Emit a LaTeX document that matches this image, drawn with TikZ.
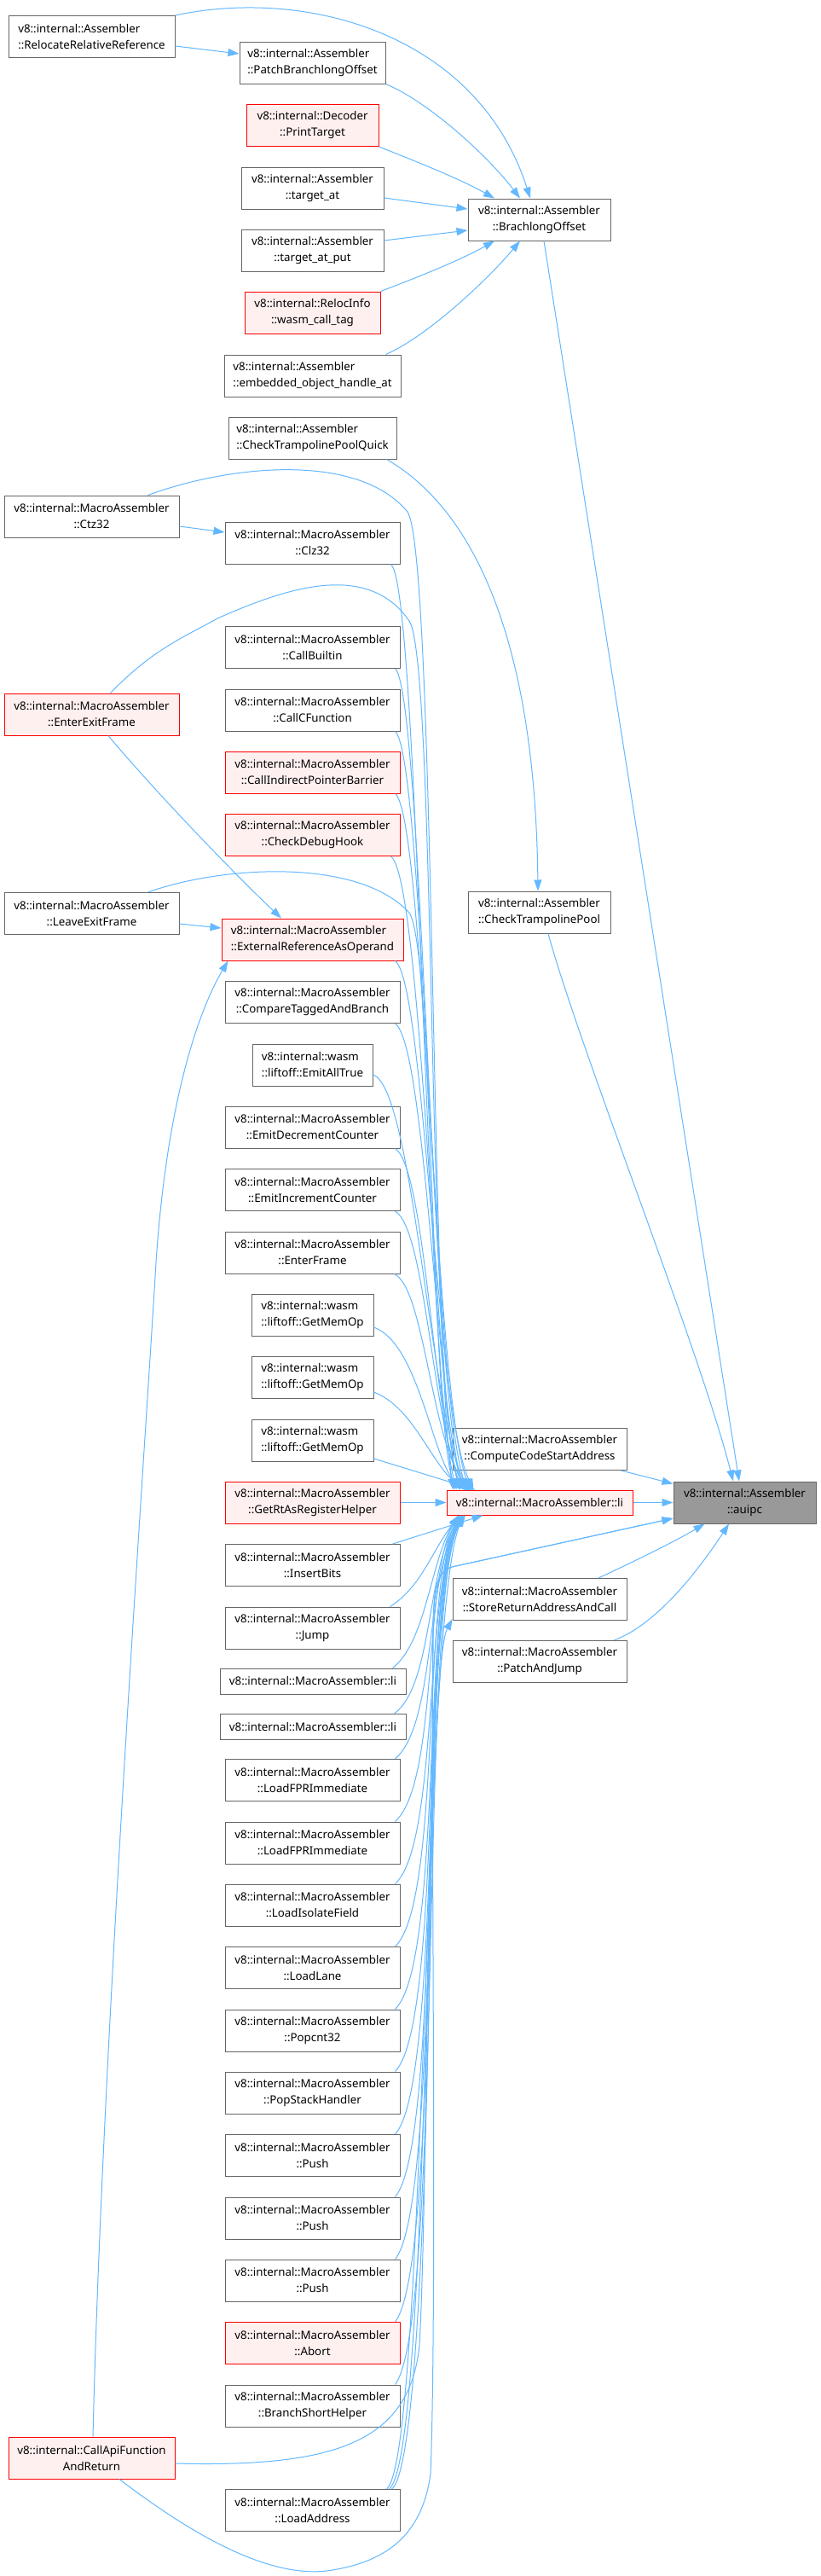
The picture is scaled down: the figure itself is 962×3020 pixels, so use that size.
\documentclass[tikz,border=0pt]{standalone}
\usepackage{fontspec}
\setmainfont{Noto Sans}
\usetikzlibrary{arrows.meta,calc}
\definecolor{edgec}{HTML}{63B8FF}
\definecolor{bordc}{HTML}{666666}
\definecolor{redfill}{HTML}{FFF0F0}
\definecolor{grayfill}{HTML}{999999}
\begin{document}
\begin{tikzpicture}[x=1pt,y=-1pt,
  nbox/.style={draw=bordc,fill=white,line width=1pt,inner sep=0pt,minimum height=49pt,
    align=center,font=\fontsize{13.3}{19}\selectfont,text=black},
  redbox/.style={nbox,draw=red,fill=redfill},
  graybox/.style={nbox,fill=grayfill,draw=bordc},
  conn/.style={draw=edgec,line width=1pt,-{Triangle[length=13pt,width=9pt]}},
  plain/.style={draw=edgec,line width=1pt}]
\fill[white] (0,0) rectangle (962,3020);
\useasboundingbox (0,0) rectangle (962,3020);

% ---- nodes
\node[nbox,minimum width=195,align=left] (reloc) at (107.5,43) {v8::internal::Assembler\\::RelocateRelativeReference};
\node[nbox,minimum width=171,align=left] (patch) at (366.5,73.5) {v8::internal::Assembler\\::PatchBranchlongOffset};
\node[redbox,minimum width=155] (printt) at (366.5,147) {v8::internal::Decoder\\::PrintTarget};
\node[nbox,minimum width=167] (tat) at (366.5,220.5) {v8::internal::Assembler\\::target\_at};
\node[nbox,minimum width=167] (tatput) at (366.5,293.5) {v8::internal::Assembler\\::target\_at\_put};
\node[redbox,minimum width=159] (wasmtag) at (366.5,366.5) {v8::internal::RelocInfo\\::wasm\_call\_tag};
\node[nbox,minimum width=207,align=left] (emb) at (366.5,440.5) {v8::internal::Assembler\\::embedded\_object\_handle\_at};
\node[nbox,minimum width=197,align=left] (ctpq) at (366.5,513.5) {v8::internal::Assembler\\::CheckTrampolinePoolQuick};
\node[nbox,minimum width=167] (brach) at (632.5,257.5) {v8::internal::Assembler\\::BrachlongOffset};
\node[nbox,minimum width=205] (ctz) at (107.5,605.5) {v8::internal::MacroAssembler\\::Ctz32};
\node[nbox,minimum width=205] (clz) at (366.5,636.5) {v8::internal::MacroAssembler\\::Clz32};
\node[nbox,minimum width=205] (cb) at (366.5,759) {v8::internal::MacroAssembler\\::CallBuiltin};
\node[nbox,minimum width=205] (ccf) at (366.5,832.5) {v8::internal::MacroAssembler\\::CallCFunction};
\node[redbox,minimum width=205] (cipb) at (366.5,905.5) {v8::internal::MacroAssembler\\::CallIndirectPointerBarrier};
\node[redbox,minimum width=205] (cdh) at (366.5,979) {v8::internal::MacroAssembler\\::CheckDebugHook};
\node[redbox,minimum width=205] (eef) at (107.5,837.5) {v8::internal::MacroAssembler\\::EnterExitFrame};
\node[nbox,minimum width=205] (lef) at (107.5,1071) {v8::internal::MacroAssembler\\::LeaveExitFrame};
\node[redbox,minimum width=213,align=left] (eroa) at (366.5,1101.5) {v8::internal::MacroAssembler\\::ExternalReferenceAsOperand};
\node[nbox,minimum width=205] (ctab) at (366.5,1175) {v8::internal::MacroAssembler\\::CompareTaggedAndBranch};
\node[nbox,minimum width=141,align=left] (eat) at (366.5,1248.5) {v8::internal::wasm\\::liftoff::EmitAllTrue};
\node[nbox,minimum width=205] (edc) at (366.5,1321.5) {v8::internal::MacroAssembler\\::EmitDecrementCounter};
\node[nbox,minimum width=205] (eic) at (366.5,1395) {v8::internal::MacroAssembler\\::EmitIncrementCounter};
\node[nbox,minimum width=205] (ef) at (366.5,1468.5) {v8::internal::MacroAssembler\\::EnterFrame};
\node[nbox,minimum width=143,align=left] (gmoa) at (366.5,1542) {v8::internal::wasm\\::liftoff::GetMemOp};
\node[nbox,minimum width=143,align=left] (gmob) at (366.5,1615) {v8::internal::wasm\\::liftoff::GetMemOp};
\node[nbox,minimum width=143,align=left] (gmoc) at (366.5,1688.5) {v8::internal::wasm\\::liftoff::GetMemOp};
\node[redbox,minimum width=205] (grarh) at (366.5,1761.5) {v8::internal::MacroAssembler\\::GetRtAsRegisterHelper};
\node[nbox,minimum width=205] (ib) at (366.5,1835) {v8::internal::MacroAssembler\\::InsertBits};
\node[nbox,minimum width=205] (jump) at (366.5,1908.5) {v8::internal::MacroAssembler\\::Jump};
\node[nbox,minimum width=218,minimum height=30] (lione) at (367,1971) {v8::internal::MacroAssembler::li};
\node[nbox,minimum width=218,minimum height=30] (litwo) at (367,2024.5) {v8::internal::MacroAssembler::li};
\node[nbox,minimum width=205] (lfpra) at (366.5,2087) {v8::internal::MacroAssembler\\::LoadFPRImmediate};
\node[nbox,minimum width=205] (lfprb) at (366.5,2160.5) {v8::internal::MacroAssembler\\::LoadFPRImmediate};
\node[nbox,minimum width=205] (lif) at (366.5,2233.5) {v8::internal::MacroAssembler\\::LoadIsolateField};
\node[nbox,minimum width=205] (lane) at (366.5,2307) {v8::internal::MacroAssembler\\::LoadLane};
\node[nbox,minimum width=205] (pop) at (366.5,2380.5) {v8::internal::MacroAssembler\\::Popcnt32};
\node[nbox,minimum width=205] (psh) at (366.5,2453.5) {v8::internal::MacroAssembler\\::PopStackHandler};
\node[nbox,minimum width=205] (pusha) at (366.5,2527) {v8::internal::MacroAssembler\\::Push};
\node[nbox,minimum width=205] (pushb) at (366.5,2600.5) {v8::internal::MacroAssembler\\::Push};
\node[nbox,minimum width=205] (pushc) at (366.5,2673.5) {v8::internal::MacroAssembler\\::Push};
\node[redbox,minimum width=205] (abort) at (366.5,2747) {v8::internal::MacroAssembler\\::Abort};
\node[nbox,minimum width=205] (bsh) at (366.5,2820.5) {v8::internal::MacroAssembler\\::BranchShortHelper};
\node[redbox,minimum width=195] (cafr) at (107.5,2881.5) {v8::internal::CallApiFunction\\AndReturn};
\node[nbox,minimum width=205] (la) at (366.5,2943) {v8::internal::MacroAssembler\\::LoadAddress};
\node[nbox,minimum width=167] (ctp) at (632.5,1069.5) {v8::internal::Assembler\\::CheckTrampolinePool};
\node[nbox,minimum width=204] (ccsa) at (633,1699) {v8::internal::MacroAssembler\\::ComputeCodeStartAddress};
\node[redbox,minimum width=218,minimum height=29] (mli) at (633,1761.5) {v8::internal::MacroAssembler::li};
\node[nbox,minimum width=204] (srac) at (633,1875) {v8::internal::MacroAssembler\\::StoreReturnAddressAndCall};
\node[nbox,minimum width=204] (paj) at (633,1948) {v8::internal::MacroAssembler\\::PatchAndJump};
\node[graybox,minimum width=167] (auipc) at (873.5,1761.5) {v8::internal::Assembler\\::auipc};

% ---- edges to BrachlongOffset
\draw[conn] ($(reloc.east)+(0,11)$) -- ($(patch.west)+(0,-10.5)$);
\draw[conn] (reloc.north east) .. controls (360,-15) and (560,40) .. ($(brach.north)+(-10.5,0)$);
\draw[conn] (patch.south east) .. controls (500,118) and (570,180) .. ($(brach.north)+(-22.5,0)$);
\draw[conn] (printt.south east) .. controls (490,190) and (540,210) .. ($(brach.north)+(-52.5,0)$);
\draw[conn] ($(tat.east)+(0,11.5)$) -- ($(brach.west)+(0,-12.5)$);
\draw[conn] ($(tatput.east)+(0,-11.5)$) -- ($(brach.west)+(0,12.5)$);
\draw[conn] (wasmtag.north east) .. controls (490,325) and (540,305) .. ($(brach.south)+(-52.5,0)$);
\draw[conn] ($(emb.north east)+(-18,0)$) .. controls (500,395) and (570,330) .. ($(brach.south)+(-22.5,0)$);

% ---- edges to auipc
\draw[conn] ($(brach.south)+(5.5,0)$) -- ($(auipc.north)+(-6.5,0)$);
\draw[conn] ($(ctpq.south east)+(-12,0)$) .. controls (560,600) and (628,760) .. ($(ctp.north)+(-1.5,0)$);
\draw[conn] ($(ctp.south)+(10.5,0)$) .. controls (680,1230) and (820,1580) .. ($(auipc.north)+(-13.5,0)$);
\draw[conn] ($(ccsa.south east)+(-7,0)$) -- ($(auipc.west)+(0,-22)$);
\draw[conn] (mli.east) -- (auipc.west);
\draw[conn] ($(srac.north)+(69,0)$) .. controls (745,1830) and (790,1808) .. ($(auipc.south west)+(37,0)$);
\draw[conn] ($(paj.north)+(87,0)$) .. controls (770,1905) and (820,1840) .. ($(auipc.south)+(-18.5,0)$);
\draw[conn] ($(cafr.south)+(32.5,0)$) .. controls (230,2975) and (320,3025) .. (390,3013)
  .. controls (450,3003) and (495,2975) .. (505,2900)
  .. controls (513,2700) and (505,2100) .. (508,1900)
  .. controls (510,1860) and (514,1842) .. (530,1837)
  -- ($(auipc.west)+(0,18.5)$);

% ---- other edges
\draw[conn] ($(ctz.east)+(0,11.5)$) -- ($(clz.west)+(0,-12.5)$);
\draw[conn] ($(eef.south)+(19.5,0)$) .. controls (175,920) and (270,1020) .. ($(eroa.north)+(-36.5,0)$);
\draw[conn] ($(lef.east)+(0,12)$) -- ($(eroa.west)+(0,-13.5)$);
\draw[conn] ($(cafr.north)+(1.5,0)$) .. controls (120,2400) and (170,1700) .. (183,1480)
  .. controls (195,1300) and (230,1190) .. ($(eroa.south west)+(8,0)$);
\draw[conn] ($(cafr.east)+(0,6.5)$) .. controls (400,2893) and (480,2860) .. (492,2750)
  .. controls (505,2500) and (495,1900) .. ($(mli.south west)+(18,0)$);
\draw[conn] ($(la.north east)+(-16,0)$) .. controls (500,2880) and (495,1900) .. ($(mli.south west)+(20,0)$);
\draw[conn] ($(la.north east)+(-13,0)$) .. controls (505,2880) and (498,1960) .. ($(srac.south west)+(0,-2)$);
\draw[conn] ($(la.north east)+(-10,0)$) .. controls (510,2880) and (506,1900) .. (509,1880)
  .. controls (511,1855) and (515,1842) .. (530,1837) -- ($(auipc.west)+(0,18.5)$);

% ---- edges into li from above
\draw[conn] ($(ctz.north)+(66,0)$) .. controls (270,545) and (420,530) .. (478,600)
  .. controls (510,650) and (505,1550) .. ($(mli.north west)+(8,0)$);
\draw[conn] ($(clz.south east)+(-11,0)$) .. controls (492,690) and (498,1600) .. ($(mli.north west)+(12,0)$);
\draw[conn] ($(eef.north)+(22,0)$) .. controls (180,760) and (220,745) .. (255,725)
  .. controls (330,692) and (430,655) .. (480,728)
  .. controls (512,775) and (500,1600) .. ($(mli.north west)+(16,0)$);
\draw[conn] ($(cb.south east)+(-6,0)$) .. controls (495,810) and (505,1600) .. ($(mli.north west)+(20,0)$);
\draw[conn] ($(ccf.south east)+(-6,0)$) .. controls (497,885) and (507,1620) .. ($(mli.north west)+(24,0)$);
\draw[conn] ($(cipb.south east)+(-6,0)$) .. controls (498,955) and (509,1630) .. ($(mli.north west)+(28,0)$);
\draw[conn] ($(cdh.south east)+(-11,0)$) .. controls (495,1030) and (510,1640) .. ($(mli.north west)+(16,0)$);
\draw[conn] ($(lef.north)+(66,0)$) .. controls (260,1015) and (420,1005) .. (480,1070)
  .. controls (508,1110) and (505,1640) .. ($(mli.north west)+(10,0)$);
\draw[conn] ($(eroa.south east)+(-10,0)$) .. controls (498,1150) and (510,1650) .. ($(mli.north west)+(32,0)$);
\draw[conn] ($(ctab.south east)+(-6,0)$) .. controls (500,1225) and (512,1660) .. ($(mli.north west)+(22,0)$);
\draw[conn] ($(eat.east)+(0,11.5)$) .. controls (485,1275) and (505,1660) .. ($(mli.north west)+(26,0)$);
\draw[conn] ($(edc.south east)+(-6,0)$) .. controls (500,1370) and (508,1670) .. ($(mli.north west)+(20,0)$);
\draw[conn] ($(eic.south east)+(-6,0)$) .. controls (500,1440) and (508,1680) .. ($(mli.north west)+(24,0)$);
\draw[conn] ($(ef.south east)+(-7,0)$) .. controls (498,1510) and (506,1690) .. ($(mli.north west)+(28,0)$);
\draw[conn] ($(gmoa.east)+(0,14)$) .. controls (490,1575) and (505,1700) .. ($(mli.north west)+(16,0)$);
\draw[conn] ($(gmob.east)+(0,17)$) .. controls (485,1650) and (505,1715) .. ($(mli.north west)+(21,0)$);
\draw[conn] ($(gmoc.east)+(0,21.5)$) -- ($(mli.north west)+(34,0)$);
\draw[conn] (grarh.east) -- (mli.west);
\draw[conn] ($(ib.north east)+(-9,0)$) -- ($(mli.south west)+(43,0)$);

% ---- edges into li from below
\draw[conn] ($(jump.north east)+(-12,0)$) .. controls (495,1860) and (508,1815) .. ($(mli.south west)+(16,0)$);
\draw[conn] ($(lione.north east)+(-16,0)$) .. controls (500,1925) and (505,1830) .. ($(mli.south west)+(14,0)$);
\draw[conn] ($(litwo.north east)+(-14,0)$) .. controls (508,1975) and (500,1840) .. ($(mli.south west)+(18,0)$);
\draw[conn] ($(lfpra.north east)+(-6,0)$) .. controls (512,2020) and (498,1850) .. ($(mli.south west)+(20,0)$);
\draw[conn] ($(lfprb.north east)+(-6,0)$) .. controls (514,2090) and (497,1850) .. ($(mli.south west)+(14,0)$);
\draw[conn] ($(lif.north east)+(-6,0)$) .. controls (516,2160) and (496,1855) .. ($(mli.south west)+(22,0)$);
\draw[conn] ($(lane.north east)+(-6,0)$) .. controls (518,2230) and (495,1855) .. ($(mli.south west)+(16,0)$);
\draw[conn] ($(pop.north east)+(-6,0)$) .. controls (520,2300) and (494,1860) .. ($(mli.south west)+(20,0)$);
\draw[conn] ($(psh.north east)+(-6,0)$) .. controls (520,2370) and (494,1860) .. ($(mli.south west)+(18,0)$);
\draw[conn] ($(pusha.north east)+(-6,0)$) .. controls (520,2440) and (493,1860) .. ($(mli.south west)+(22,0)$);
\draw[conn] ($(pushb.north east)+(-6,0)$) .. controls (520,2510) and (493,1860) .. ($(mli.south west)+(16,0)$);
\draw[conn] ($(pushc.north east)+(-6,0)$) .. controls (520,2580) and (492,1860) .. ($(mli.south west)+(20,0)$);
\draw[conn] ($(abort.north east)+(-6,0)$) .. controls (520,2650) and (492,1860) .. ($(mli.south west)+(18,0)$);
\draw[conn] ($(bsh.north east)+(-6,0)$) .. controls (520,2720) and (492,1860) .. ($(mli.south west)+(22,0)$);
\end{tikzpicture}
\end{document}
